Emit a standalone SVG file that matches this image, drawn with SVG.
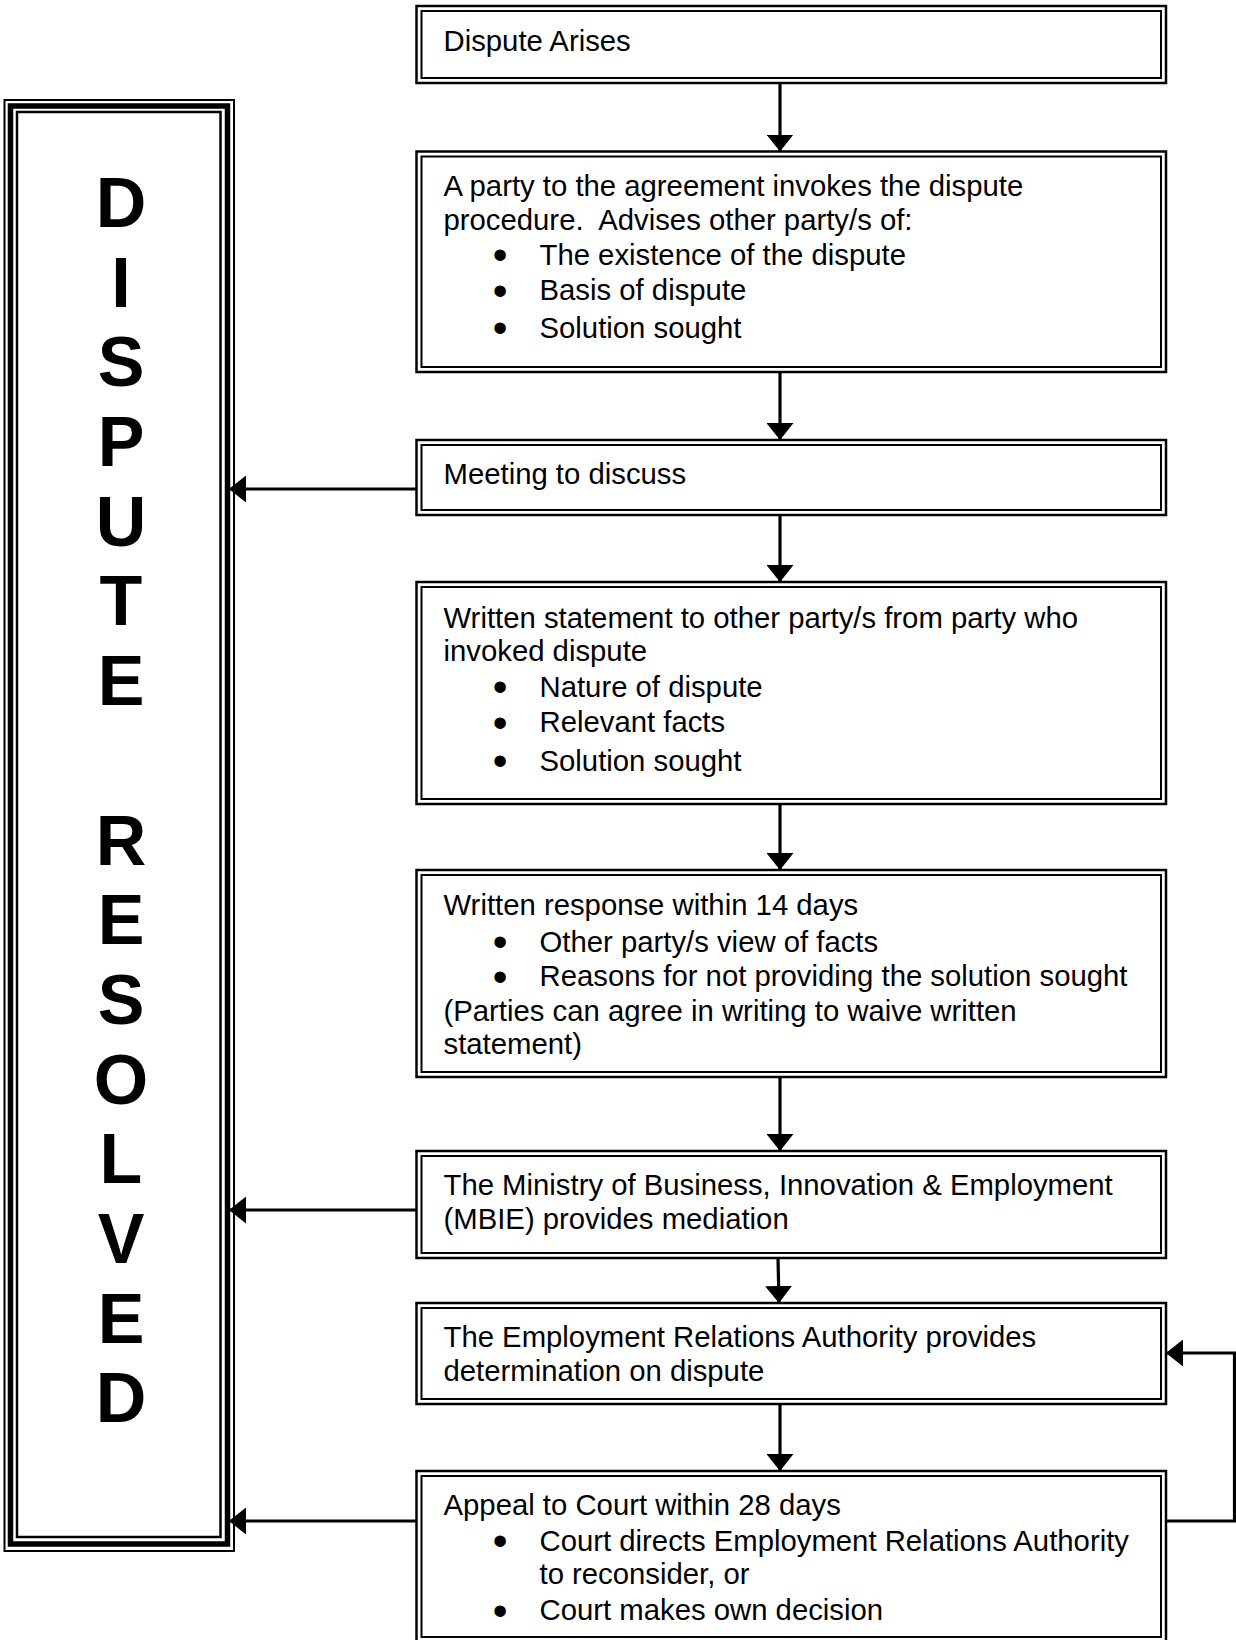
<svg xmlns="http://www.w3.org/2000/svg" width="1236" height="1640" viewBox="0 0 1236 1640">
<style>
.o{fill:none;stroke:#000;stroke-width:2.5}
.i{fill:none;stroke:#000;stroke-width:2}
.t{font-family:"Liberation Sans",Arial,sans-serif;font-size:29.3px;fill:#000}
.b{font-family:"Liberation Sans",Arial,sans-serif;font-size:42px;fill:#000;text-anchor:middle}
.big{font-family:"Liberation Sans",Arial,sans-serif;font-size:70px;font-weight:bold;fill:#000;text-anchor:middle}
.c{fill:none;stroke:#000;stroke-width:3.2}
</style>
<defs>
<marker id="ah" markerUnits="userSpaceOnUse" markerWidth="17" markerHeight="27" refX="17" refY="13.5" orient="auto" viewBox="0 0 17 27">
<path d="M0,0 L17,13.5 L0,27 z" fill="#000"/>
</marker>
</defs>
<rect width="1236" height="1640" fill="#fff"/>
<g id="resolved">
<rect x="4.5" y="100" width="229.5" height="1451" fill="none" stroke="#000" stroke-width="2"/>
<rect x="10.5" y="106" width="217" height="1438" fill="none" stroke="#000" stroke-width="5.5"/>
<rect x="17" y="112" width="203.5" height="1425" fill="none" stroke="#000" stroke-width="2.5"/>
<text class="big"><tspan x="121" y="227">D</tspan><tspan x="121" y="307">I</tspan><tspan x="121" y="386">S</tspan><tspan x="121" y="466">P</tspan><tspan x="121" y="546">U</tspan><tspan x="121" y="625">T</tspan><tspan x="121" y="705">E</tspan><tspan x="121" y="865">R</tspan><tspan x="121" y="944">E</tspan><tspan x="121" y="1024">S</tspan><tspan x="121" y="1104">O</tspan><tspan x="121" y="1183">L</tspan><tspan x="121" y="1263">V</tspan><tspan x="121" y="1343">E</tspan><tspan x="121" y="1422">D</tspan></text>
</g>
<g id="n1">
<rect class="o" x="416.5" y="6" width="749.5" height="77"/>
<rect class="i" x="421.5" y="11" width="739.5" height="67"/>
<text class="t" x="443.5" y="51">Dispute Arises</text>
</g>
<g id="n2">
<rect class="o" x="416.5" y="151.5" width="749.5" height="220.5"/>
<rect class="i" x="421.5" y="156.5" width="739.5" height="210.5"/>
<text class="t" x="443.5" y="195.5">A party to the agreement invokes the dispute</text>
<text class="t" x="443.5" y="230">procedure.&#160; Advises other party/s of:</text>
<text class="b" x="500" y="269">•</text><text class="t" x="539.5" y="264.5">The existence of the dispute</text>
<text class="b" x="500" y="304.5">•</text><text class="t" x="539.5" y="300">Basis of dispute</text>
<text class="b" x="500" y="342">•</text><text class="t" x="539.5" y="337.5">Solution sought</text>
</g>
<g id="n3">
<rect class="o" x="416.5" y="440" width="749.5" height="75"/>
<rect class="i" x="421.5" y="445" width="739.5" height="65"/>
<text class="t" x="443.5" y="484">Meeting to discuss</text>
</g>
<g id="n4">
<rect class="o" x="416.5" y="582" width="749.5" height="222"/>
<rect class="i" x="421.5" y="587" width="739.5" height="212"/>
<text class="t" x="443.5" y="627.5">Written statement to other party/s from party who</text>
<text class="t" x="443.5" y="661">invoked dispute</text>
<text class="b" x="500" y="701">•</text><text class="t" x="539.5" y="696.5">Nature of dispute</text>
<text class="b" x="500" y="736.5">•</text><text class="t" x="539.5" y="732">Relevant facts</text>
<text class="b" x="500" y="775">•</text><text class="t" x="539.5" y="770.5">Solution sought</text>
</g>
<g id="n5">
<rect class="o" x="416.5" y="870" width="749.5" height="207"/>
<rect class="i" x="421.5" y="875" width="739.5" height="197"/>
<text class="t" x="443.5" y="915">Written response within 14 days</text>
<text class="b" x="500" y="956">•</text><text class="t" x="539.5" y="951.5">Other party/s view of facts</text>
<text class="b" x="500" y="990.5">•</text><text class="t" x="539.5" y="986">Reasons for not providing the solution sought</text>
<text class="t" x="443.5" y="1020.5">(Parties can agree in writing to waive written</text>
<text class="t" x="443.5" y="1054">statement)</text>
</g>
<g id="n6">
<rect class="o" x="416.5" y="1151" width="749.5" height="107"/>
<rect class="i" x="421.5" y="1156" width="739.5" height="97"/>
<text class="t" x="443.5" y="1195">The Ministry of Business, Innovation &amp; Employment</text>
<text class="t" x="443.5" y="1228.5">(MBIE) provides mediation</text>
</g>
<g id="n7">
<rect class="o" x="416.5" y="1303" width="749.5" height="101"/>
<rect class="i" x="421.5" y="1308" width="739.5" height="91"/>
<text class="t" x="443.5" y="1347">The Employment Relations Authority provides</text>
<text class="t" x="443.5" y="1380.5">determination on dispute</text>
</g>
<g id="n8">
<rect class="o" x="416.5" y="1471" width="749.5" height="171"/>
<rect class="i" x="421.5" y="1476" width="739.5" height="161"/>
<text class="t" x="443.5" y="1515">Appeal to Court within 28 days</text>
<text class="b" x="500" y="1555">•</text><text class="t" x="539.5" y="1550.5">Court directs Employment Relations Authority</text>
<text class="t" x="539.5" y="1584">to reconsider, or</text>
<text class="b" x="500" y="1624.5">•</text><text class="t" x="539.5" y="1620">Court makes own decision</text>
</g>
<g id="connectors">
<line class="c" x1="780" y1="83" x2="780" y2="151.5" marker-end="url(#ah)"/>
<line class="c" x1="780" y1="372" x2="780" y2="440" marker-end="url(#ah)"/>
<line class="c" x1="780" y1="515" x2="780" y2="582" marker-end="url(#ah)"/>
<line class="c" x1="780" y1="804" x2="780" y2="870" marker-end="url(#ah)"/>
<line class="c" x1="780" y1="1077" x2="780" y2="1151" marker-end="url(#ah)"/>
<line class="c" x1="778" y1="1258" x2="779" y2="1303" marker-end="url(#ah)"/>
<line class="c" x1="780" y1="1404" x2="780" y2="1471" marker-end="url(#ah)"/>
<line class="c" x1="417" y1="489" x2="229" y2="489" marker-end="url(#ah)"/>
<line class="c" x1="417" y1="1210" x2="229" y2="1210" marker-end="url(#ah)"/>
<line class="c" x1="417" y1="1521" x2="229" y2="1521" marker-end="url(#ah)"/>
<polyline class="c" points="1166,1521 1234.5,1521 1234.5,1353 1166,1353" marker-end="url(#ah)"/>
</g>
</svg>
